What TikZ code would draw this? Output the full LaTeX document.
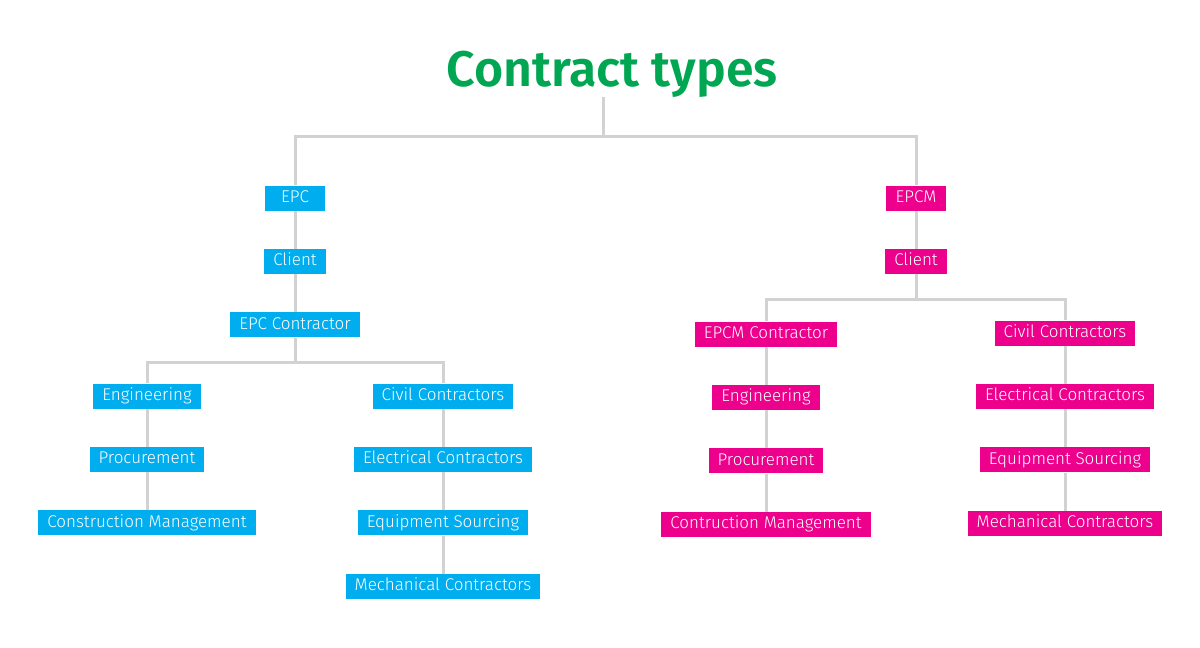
\documentclass[tikz,border=0pt]{standalone}
\usepackage{fontspec}
\setmainfont{Fira Sans Light}
\newfontfamily\titlefont{Fira Sans SemiBold}
\usetikzlibrary{positioning}
\definecolor{epcblue}{RGB}{0,174,239}
\definecolor{epcmpink}{RGB}{236,0,140}
\definecolor{titlegreen}{RGB}{0,166,81}
\definecolor{linegray}{RGB}{210,210,210}

\begin{document}
\begin{tikzpicture}[
  x=1pt, y=-1pt,
  node distance=38pt,
  box/.style={rectangle, minimum height=25pt, minimum width=60pt,
              inner xsep=9pt, inner ysep=0pt,
              text height=12.5pt, text depth=3.5pt, text=white,
              font=\fontsize{17}{19}\selectfont},
  bluebox/.style={box, fill=epcblue},
  pinkbox/.style={box, fill=epcmpink},
  link/.style={draw=linegray, line width=3pt}
]
\path[use as bounding box, fill=white] (0,0) rectangle (1200,648);

\node[text=titlegreen, font=\titlefont\fontsize{50}{56}\selectfont] (title) at (612,74) {Contract types};
\coordinate (hubtop) at (603,97);
\coordinate (hub) at (603,136);

% EPC side
\node[bluebox] (epc) at (295,198) {EPC};
\node[bluebox, below=of epc] (cl1) {Client};
\node[bluebox, below=of cl1] (epcc) {EPC Contractor};
\coordinate (j1) at (295,362);
\node[bluebox] (eng1) at (147,396) {Engineering};
\node[bluebox, below=of eng1] (proc1) {Procurement};
\node[bluebox, below=of proc1] (cm1) {Construction Management};
\node[bluebox] (civ1) at (443,396) {Civil Contractors};
\node[bluebox, below=of civ1] (elec1) {Electrical Contractors};
\node[bluebox, below=of elec1] (equip1) {Equipment Sourcing};
\node[bluebox, below=of equip1] (mech1) {Mechanical Contractors};

% EPCM side
\node[pinkbox] (epcm) at (916,198) {EPCM};
\node[pinkbox, below=of epcm] (cl2) {Client};
\coordinate (j2) at (916,299);
\node[pinkbox] (epcmc) at (766,334) {EPCM Contractor};
\node[pinkbox, below=of epcmc] (eng2) {Engineering};
\node[pinkbox, below=of eng2] (proc2) {Procurement};
\node[pinkbox, below=of proc2] (cm2) {Contruction Management};
\node[pinkbox] (civ2) at (1065,333) {Civil Contractors};
\node[pinkbox, below=of civ2] (elec2) {Electrical Contractors};
\node[pinkbox, below=of elec2] (equip2) {Equipment Sourcing};
\node[pinkbox, below=of equip2] (mech2) {Mechanical Contractors};

% connectors
\draw[link] (hubtop) -- (hub);
\draw[link] (epc) |- (hub) -| (epcm);
\draw[link] (epc) -- (cl1);
\draw[link] (cl1) -- (epcc);
\draw[link] (epcc) -- (j1);
\draw[link] (eng1) |- (j1) -| (civ1);
\draw[link] (eng1) -- (proc1);
\draw[link] (proc1) -- (cm1);
\draw[link] (civ1) -- (elec1);
\draw[link] (elec1) -- (equip1);
\draw[link] (equip1) -- (mech1);
\draw[link] (epcm) -- (cl2);
\draw[link] (cl2) -- (j2);
\draw[link] (epcmc) |- (j2) -| (civ2);
\draw[link] (epcmc) -- (eng2);
\draw[link] (eng2) -- (proc2);
\draw[link] (proc2) -- (cm2);
\draw[link] (civ2) -- (elec2);
\draw[link] (elec2) -- (equip2);
\draw[link] (equip2) -- (mech2);
\end{tikzpicture}
\end{document}
